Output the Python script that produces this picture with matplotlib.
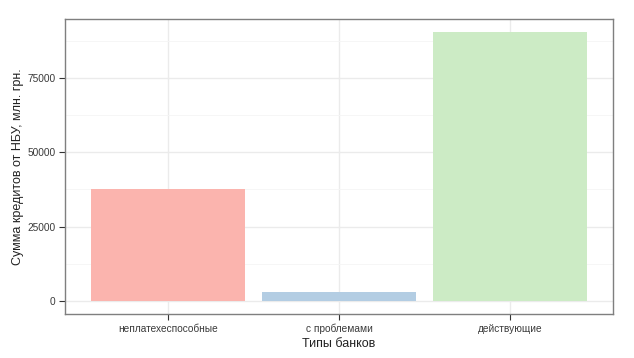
import matplotlib
matplotlib.use("Agg")
import matplotlib.pyplot as plt

categories = ["неплатехеспособные", "с проблемами", "действующие"]
values = [37800, 2800, 90500]
colors = ["#FBB4AE", "#B3CDE3", "#CCEBC5"]
yticks = [0, 25000, 50000, 75000]
yminor = [12500, 37500, 62500, 87500]

plt.rcParams["font.family"] = ["Liberation Sans", "DejaVu Sans"]

fig = plt.figure(figsize=(6.34, 3.58), dpi=100)
ax = fig.add_axes([65 / 634, 44 / 358, 548 / 634, 295 / 358])

x = range(1, len(categories) + 1)
ax.bar(x, values, width=0.9, color=colors, zorder=2)

ax.set_xlim(0.4, 3.6)
top = max(values)
ax.set_ylim(-0.05 * top, 1.05 * top)

ax.set_xticks(list(x))
ax.set_xticklabels(categories)
ax.set_yticks(yticks)
ax.set_yticks(yminor, minor=True)

ax.grid(which="major", color="#EBEBEB", linewidth=1.0, zorder=0)
ax.grid(which="minor", axis="y", color="#F5F5F5", linewidth=0.6, zorder=0)
ax.set_axisbelow(True)

for s in ax.spines.values():
    s.set_color("#7F7F7F")
    s.set_linewidth(1.0)

ax.tick_params(which="major", length=4, width=0.8, color="#333333",
               labelsize=7.3, labelcolor="#3A3A3A", pad=3)
ax.tick_params(which="minor", length=0)

ax.set_xlabel("Типы банков", fontsize=9, color="#222222", labelpad=3)
ax.set_ylabel("Сумма кредитов от НБУ, млн. грн.", fontsize=9, color="#222222", labelpad=2)

fig.savefig("out.png", dpi=100)
